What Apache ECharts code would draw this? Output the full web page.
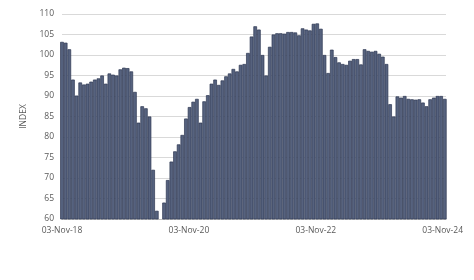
<!DOCTYPE html>
<html>
<head>
<meta charset="utf-8">
<script src="https://cdn.jsdelivr.net/npm/echarts@6/dist/echarts.min.js"></script>
<style>
html,body{margin:0;padding:0;background:#fff;}
#chart{width:474px;height:280px;}
</style>
</head>
<body>
<div id="chart"></div>
<script>
// Observations every 21 days, starting 03-Nov-18 (x = days since start)
const startDate = '2018-11-03';
const stepDays = 21;
const indexValues = [
  103.2, 103.0, 101.4, 94.0, 90.1, 93.3, 92.8, 93.0, 93.5, 94.0,
  94.3, 95.0, 93.0, 95.5, 95.2, 95.0, 96.5, 96.9, 96.8, 96.0,
  91.0, 83.5, 87.5, 87.0, 85.0, 72.0, 62.0, 59.0, 64.0, 69.5,
  74.0, 76.5, 78.2, 80.5, 84.5, 87.3, 88.6, 89.3, 83.5, 88.7,
  90.2, 93.0, 94.0, 92.7, 93.8, 94.8, 95.5, 96.6, 96.0, 97.6,
  97.8, 100.5, 104.5, 107.0, 106.2, 100.0, 95.0, 102.0, 105.0, 105.3,
  105.3, 105.2, 105.6, 105.6, 105.5, 104.8, 106.5, 106.2, 106.0, 107.6,
  107.7, 106.4, 100.0, 95.6, 101.3, 99.5, 98.2, 97.8, 97.6, 98.6,
  99.0, 99.0, 97.7, 101.4, 101.0, 100.8, 101.0, 100.3, 99.6, 97.8,
  88.0, 85.0, 89.9, 89.6, 90.0, 89.3, 89.2, 89.1, 89.2, 88.4,
  87.5, 89.2, 89.6, 90.0, 90.0, 89.3
];
const xTickLabels = ['03-Nov-18', '03-Nov-20', '03-Nov-22', '03-Nov-24'];
const xTickStep = 731; // days between labels (2 years)
const yTicks = {min: 60, max: 110, interval: 5};

const seriesData = indexValues.map((v, i) => [i * stepDays, v]);

const chart = echarts.init(document.getElementById('chart'), null, {renderer: 'canvas'});
chart.setOption({
  animation: false,
  backgroundColor: '#ffffff',
  grid: {left: 62, right: 28, top: 14, bottom: 61, containLabel: false},
  xAxis: {
    type: 'value',
    min: 0,
    max: 2212,
    interval: xTickStep,
    axisLine: {show: true, lineStyle: {color: '#bfbfbf', width: 1}},
    axisTick: {show: false},
    splitLine: {show: false},
    axisLabel: {
      color: '#595959',
      fontSize: 8.5,
      fontFamily: 'Open Sans',
      margin: 7,
      showMaxLabel: false,
      formatter: function (v) {
        const i = Math.round(v / xTickStep);
        return (v % xTickStep === 0 && xTickLabels[i]) ? xTickLabels[i] : '';
      }
    }
  },
  yAxis: {
    type: 'value',
    min: yTicks.min,
    max: yTicks.max,
    interval: yTicks.interval,
    name: 'INDEX',
    nameLocation: 'middle',
    nameGap: 25,
    nameTextStyle: {color: '#595959', fontSize: 8.5, fontFamily: 'Open Sans'},
    axisLine: {show: false},
    axisTick: {show: false},
    splitLine: {show: true, lineStyle: {color: '#d9d9d9', width: 1}},
    axisLabel: {color: '#595959', fontSize: 8.5, fontFamily: 'Open Sans', margin: 8}
  },
  series: [{
    type: 'bar',
    data: seriesData,
    barWidth: 3.64,
    clip: true,
    itemStyle: {color: '#56627e', borderColor: '#2d3651', borderWidth: 0.7}
  }]
});
</script>
</body>
</html>
